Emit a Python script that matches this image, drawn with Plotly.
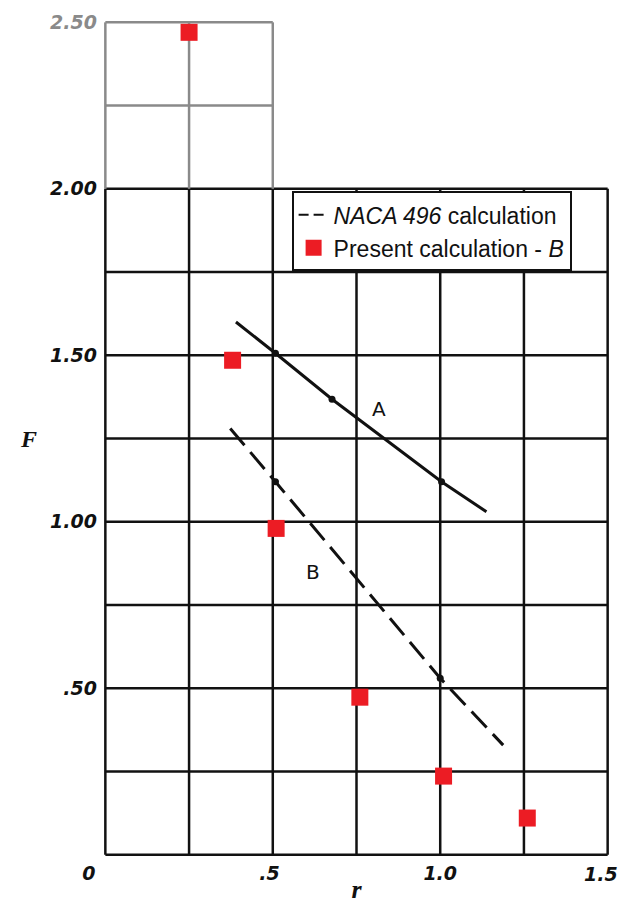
import plotly.graph_objects as go

# grid / tick values
x_grid = [0, 0.25, 0.5, 0.75, 1.0, 1.25, 1.5]
y_grid = [0, 0.25, 0.5, 0.75, 1.0, 1.25, 1.5, 1.75, 2.0]
x_grid_upper = [0, 0.25, 0.5]
y_grid_upper = [2.25, 2.5]

x_tickvals = [0, 0.5, 1.0]
x_ticktext = ["0&nbsp;&nbsp;&nbsp;&nbsp;&nbsp;", ".5&nbsp;", "1.0"]
x_last_tick = 1.5  # drawn as an annotation so it stays inside the page
y_tickvals = [0.5, 1.0, 1.5, 2.0, 2.5]
y_ticktext = [".50", "1.00", "1.50", "2.00", '<span style="color:#8a8a8a">2.50</span>']

# curve A (solid, from report)
a_x = [0.39, 0.508, 0.677, 1.004, 1.138]
a_y = [1.60, 1.506, 1.368, 1.12, 1.03]
a_dot_x = [0.508, 0.677, 1.004]
a_dot_y = [1.506, 1.368, 1.12]

# curve B (dashed, NACA 496 calculation)
b_x = [0.373, 0.508, 1.0, 1.188]
b_y = [1.28, 1.12, 0.53, 0.329]
b_dot_x = [0.508, 1.0]
b_dot_y = [1.12, 0.53]

# present calculation - B
p_x = [0.25, 0.38, 0.51, 0.76, 1.01, 1.26]
p_y = [2.47, 1.485, 0.98, 0.473, 0.236, 0.11]

RED = "#ec1c24"
INK = "#111111"
GRAY = "#8a8a8a"

fig = go.Figure()

fig.add_trace(go.Scatter(x=a_x, y=a_y, mode="lines", line=dict(color=INK, width=3),
                         showlegend=False, hoverinfo="skip"))
fig.add_trace(go.Scatter(x=a_dot_x, y=a_dot_y, mode="markers", marker=dict(color=INK, size=7),
                         showlegend=False, hoverinfo="skip"))
fig.add_trace(go.Scatter(x=b_x, y=b_y, mode="lines", line=dict(color=INK, width=3, dash="22px,9px"),
                         showlegend=False))
fig.add_trace(go.Scatter(x=b_dot_x, y=b_dot_y, mode="markers", marker=dict(color=INK, size=7),
                         showlegend=False, hoverinfo="skip"))
# legend-only entry so the key shows a short double dash
fig.add_trace(go.Scatter(x=[None], y=[None], mode="lines", name="<i>NACA 496</i> calculation",
                         line=dict(color=INK, width=2, dash="10px,5px")))
fig.add_trace(go.Scatter(x=p_x, y=p_y, mode="markers", name="Present calculation - <i>B</i>",
                         marker=dict(color=RED, size=17, symbol="square")))

shapes = []
for v in x_grid:
    shapes.append(dict(type="line", x0=v, x1=v, y0=0, y1=2.0, line=dict(color=INK, width=2.5), layer="below"))
for h in y_grid:
    shapes.append(dict(type="line", x0=0, x1=1.5, y0=h, y1=h, line=dict(color=INK, width=2.5), layer="below"))
for v in x_grid_upper:
    shapes.append(dict(type="line", x0=v, x1=v, y0=2.0, y1=2.5, line=dict(color=GRAY, width=2.5), layer="below"))
for h in y_grid_upper:
    shapes.append(dict(type="line", x0=0, x1=0.5, y0=h, y1=h, line=dict(color=GRAY, width=2.5), layer="below"))

tickfont = dict(family="DejaVu Sans", size=19, color=INK, style="italic", weight="bold")

# page body adds an 8px margin, so the figure is sized to fit the window
fig.update_layout(
    width=618, height=896,
    margin=dict(l=94, r=15, t=11, b=46),
    plot_bgcolor="white", paper_bgcolor="white",
    shapes=shapes,
    showlegend=True,
    legend=dict(x=0.3725, y=0.7946, xanchor="left", yanchor="top",
                bgcolor="white", bordercolor=INK, borderwidth=2,
                font=dict(family="Liberation Sans", size=23, color=INK),
                tracegroupgap=0, itemwidth=30),
    xaxis=dict(range=[-0.01, 1.51], showgrid=False, zeroline=False, showline=False, ticks="",
               automargin=False, ticklabeloverflow="allow",
               tickvals=x_tickvals, ticktext=x_ticktext, tickfont=tickfont, ticklabelstandoff=2,
               title=dict(text="<b><i>r</i></b>", font=dict(family="Liberation Serif", size=26, color=INK),
                          standoff=0)),
    yaxis=dict(range=[-0.01, 2.51], showgrid=False, zeroline=False, showline=False, ticks="",
               automargin=False, ticklabeloverflow="allow",
               tickvals=y_tickvals, ticktext=y_ticktext, tickfont=tickfont, ticklabelstandoff=4),
    annotations=[
        dict(text="<b><i>F</i></b>", xref="paper", yref="paper", x=-0.165, y=0.5, showarrow=False,
             font=dict(family="Liberation Serif", size=24, color=INK)),
        dict(text="A", x=0.816, y=1.34, showarrow=False, font=dict(family="DejaVu Sans", size=20, color=INK)),
        dict(text="B", x=0.62, y=0.85, showarrow=False, font=dict(family="DejaVu Sans", size=20, color=INK)),
        dict(text=f"{x_last_tick:.1f}", x=x_last_tick, y=0, yanchor="top", xanchor="right",
             xshift=12, yshift=-6, showarrow=False, font=tickfont),
    ],
)

fig.write_html("out.html")
